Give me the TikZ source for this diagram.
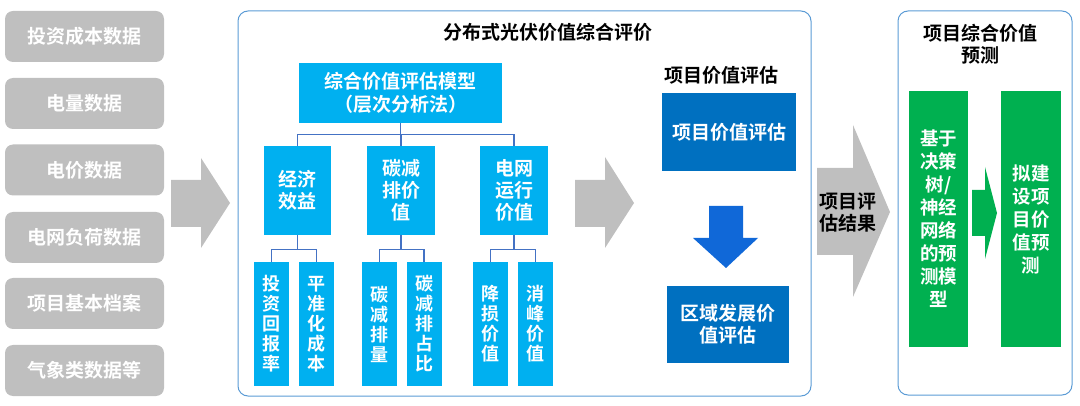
\documentclass[tikz,border=0pt]{standalone}
\usepackage{fontspec}
\setmainfont{Noto Sans CJK SC}[BoldFont={Noto Sans CJK SC Bold}]
\definecolor{gbox}{HTML}{BFBFBF}
\definecolor{cyanb}{HTML}{00B0F0}
\definecolor{blueb}{HTML}{0070C0}
\definecolor{greenb}{HTML}{00B050}
\definecolor{connc}{HTML}{4472C4}
\definecolor{framec}{HTML}{5B9BD5}
\definecolor{darrow}{HTML}{1068D8}
\tikzset{
  base/.style={inner sep=0pt, align=center, font=\bfseries\fontsize{19}{22}\selectfont},
  graybox/.style={base, fill=gbox, text=white, rounded corners=8pt, minimum width=159pt, minimum height=51pt},
  cyanbox/.style={base, fill=cyanb, text=white},
  leafbox/.style={base, fill=cyanb, text=white, minimum width=35pt, minimum height=124pt, font=\bfseries\fontsize{18}{20}\selectfont},
  bluebox/.style={base, fill=blueb, text=white},
  greenbox/.style={base, fill=greenb, text=white, minimum height=256pt, font=\bfseries\fontsize{18.5}{23}\selectfont},
  frame/.style={draw=framec, line width=1pt, rounded corners=10pt, minimum width=#1},
  conn/.style={draw=connc, line width=1.2pt},
  titletext/.style={base, text=black},
}
\begin{document}
\begin{tikzpicture}[x=1pt,y=-1pt]
\useasboundingbox (0,0) rectangle (1080,406);
% left data boxes
\node[graybox] (d1) at (84.5,36.5) {投资成本数据};
\node[graybox] (d2) at (84.5,103.5) {电量数据};
\node[graybox] (d3) at (84.5,170) {电价数据};
\node[graybox] (d4) at (84.5,237.5) {电网负荷数据};
\node[graybox] (d5) at (84.5,303.5) {项目基本档案};
\node[graybox] (d6) at (84.5,370.5) {气象类数据等};
% gray arrow 1
\fill[gbox] (171,180) -- (201,180) -- (201,158) -- (230,203) -- (201,248) -- (201,227) -- (171,227) -- cycle;
% main frame
\node[frame=573pt, minimum height=385pt] (main) at (524.5,203.5) {};
\node[titletext] (mtitle) at (548,32) {分布式光伏价值综合评价};
% hierarchy
\node[cyanbox, minimum width=203pt, minimum height=60pt, font=\bfseries\fontsize{19}{23}\selectfont] (top) at (400.5,93) {综合价值评估模型\\（层次分析法）};
\node[cyanbox, minimum width=67pt, minimum height=89pt] (ma) at (297.5,190.5) {经济\\效益};
\node[cyanbox, minimum width=68pt, minimum height=89pt] (mb) at (401,190.5) {碳减\\排价\\值};
\node[cyanbox, minimum width=68pt, minimum height=89pt] (mc) at (514,190.5) {电网\\运行\\价值};
\draw[conn] (top.south) -- ++(0,11) -| (ma.north);
\draw[conn] (top.south) -- ++(0,11) -| (mb.north);
\draw[conn] (top.south) -- ++(0,11) -| (mc.north);
\node[leafbox] (l1) at (271.5,324) {投\\资\\回\\报\\率};
\node[leafbox] (l2) at (316.5,324) {平\\准\\化\\成\\本};
\node[leafbox] (l3) at (379.5,324) {碳\\减\\排\\量};
\node[leafbox] (l4) at (424,324) {碳\\减\\排\\占\\比};
\node[leafbox] (l5) at (490.5,324) {降\\损\\价\\值};
\node[leafbox] (l6) at (535.5,324) {消\\峰\\价\\值};
\draw[conn] (ma.south) -- ++(0,14) -| (l1.north);
\draw[conn] (ma.south) -- ++(0,14) -| (l2.north);
\draw[conn] (mb.south) -- ++(0,14) -| (l3.north);
\draw[conn] (mb.south) -- ++(0,14) -| (l4.north);
\draw[conn] (mc.south) -- ++(0,14) -| (l5.north);
\draw[conn] (mc.south) -- ++(0,14) -| (l6.north);
% gray arrow 2
\fill[gbox] (575,180) -- (605,180) -- (605,157) -- (634,203) -- (605,248) -- (605,227) -- (575,227) -- cycle;
% project value evaluation
\node[titletext] (ptitle) at (721,75) {项目价值评估};
\node[bluebox, minimum width=134pt, minimum height=78pt] (p1) at (729,132) {项目价值评估};
\fill[darrow] (709,206) -- (743,206) -- (743,238) -- (758,238) -- (726,268) -- (693,238) -- (709,238) -- cycle;
\node[bluebox, minimum width=122pt, minimum height=77pt] (p2) at (728,324.5) {区域发展价\\值评估};
% gray arrow 3
\fill[gbox] (817,168) -- (853,168) -- (853,125) -- (890,212) -- (853,297) -- (853,255) -- (817,255) -- cycle;
\node[titletext] (res) at (848,212) {项目评\\估结果};
% right frame
\node[frame=174pt, minimum height=384pt] (right) at (985,203) {};
\node[titletext] (rtitle) at (980,44) {项目综合价值\\预测};
\node[greenbox, minimum width=59pt] (g1) at (938.5,219) {基于\\决策\\树/\\神经\\网络\\的预\\测模\\型};
\node[greenbox, minimum width=60pt] (g2) at (1031,219) {拟建\\设项\\目价\\值预\\测};
\fill[greenb] (972,190) -- (985,190) -- (985,167) -- (997,213) -- (985,259) -- (985,236) -- (972,236) -- cycle;
\end{tikzpicture}
\end{document}
